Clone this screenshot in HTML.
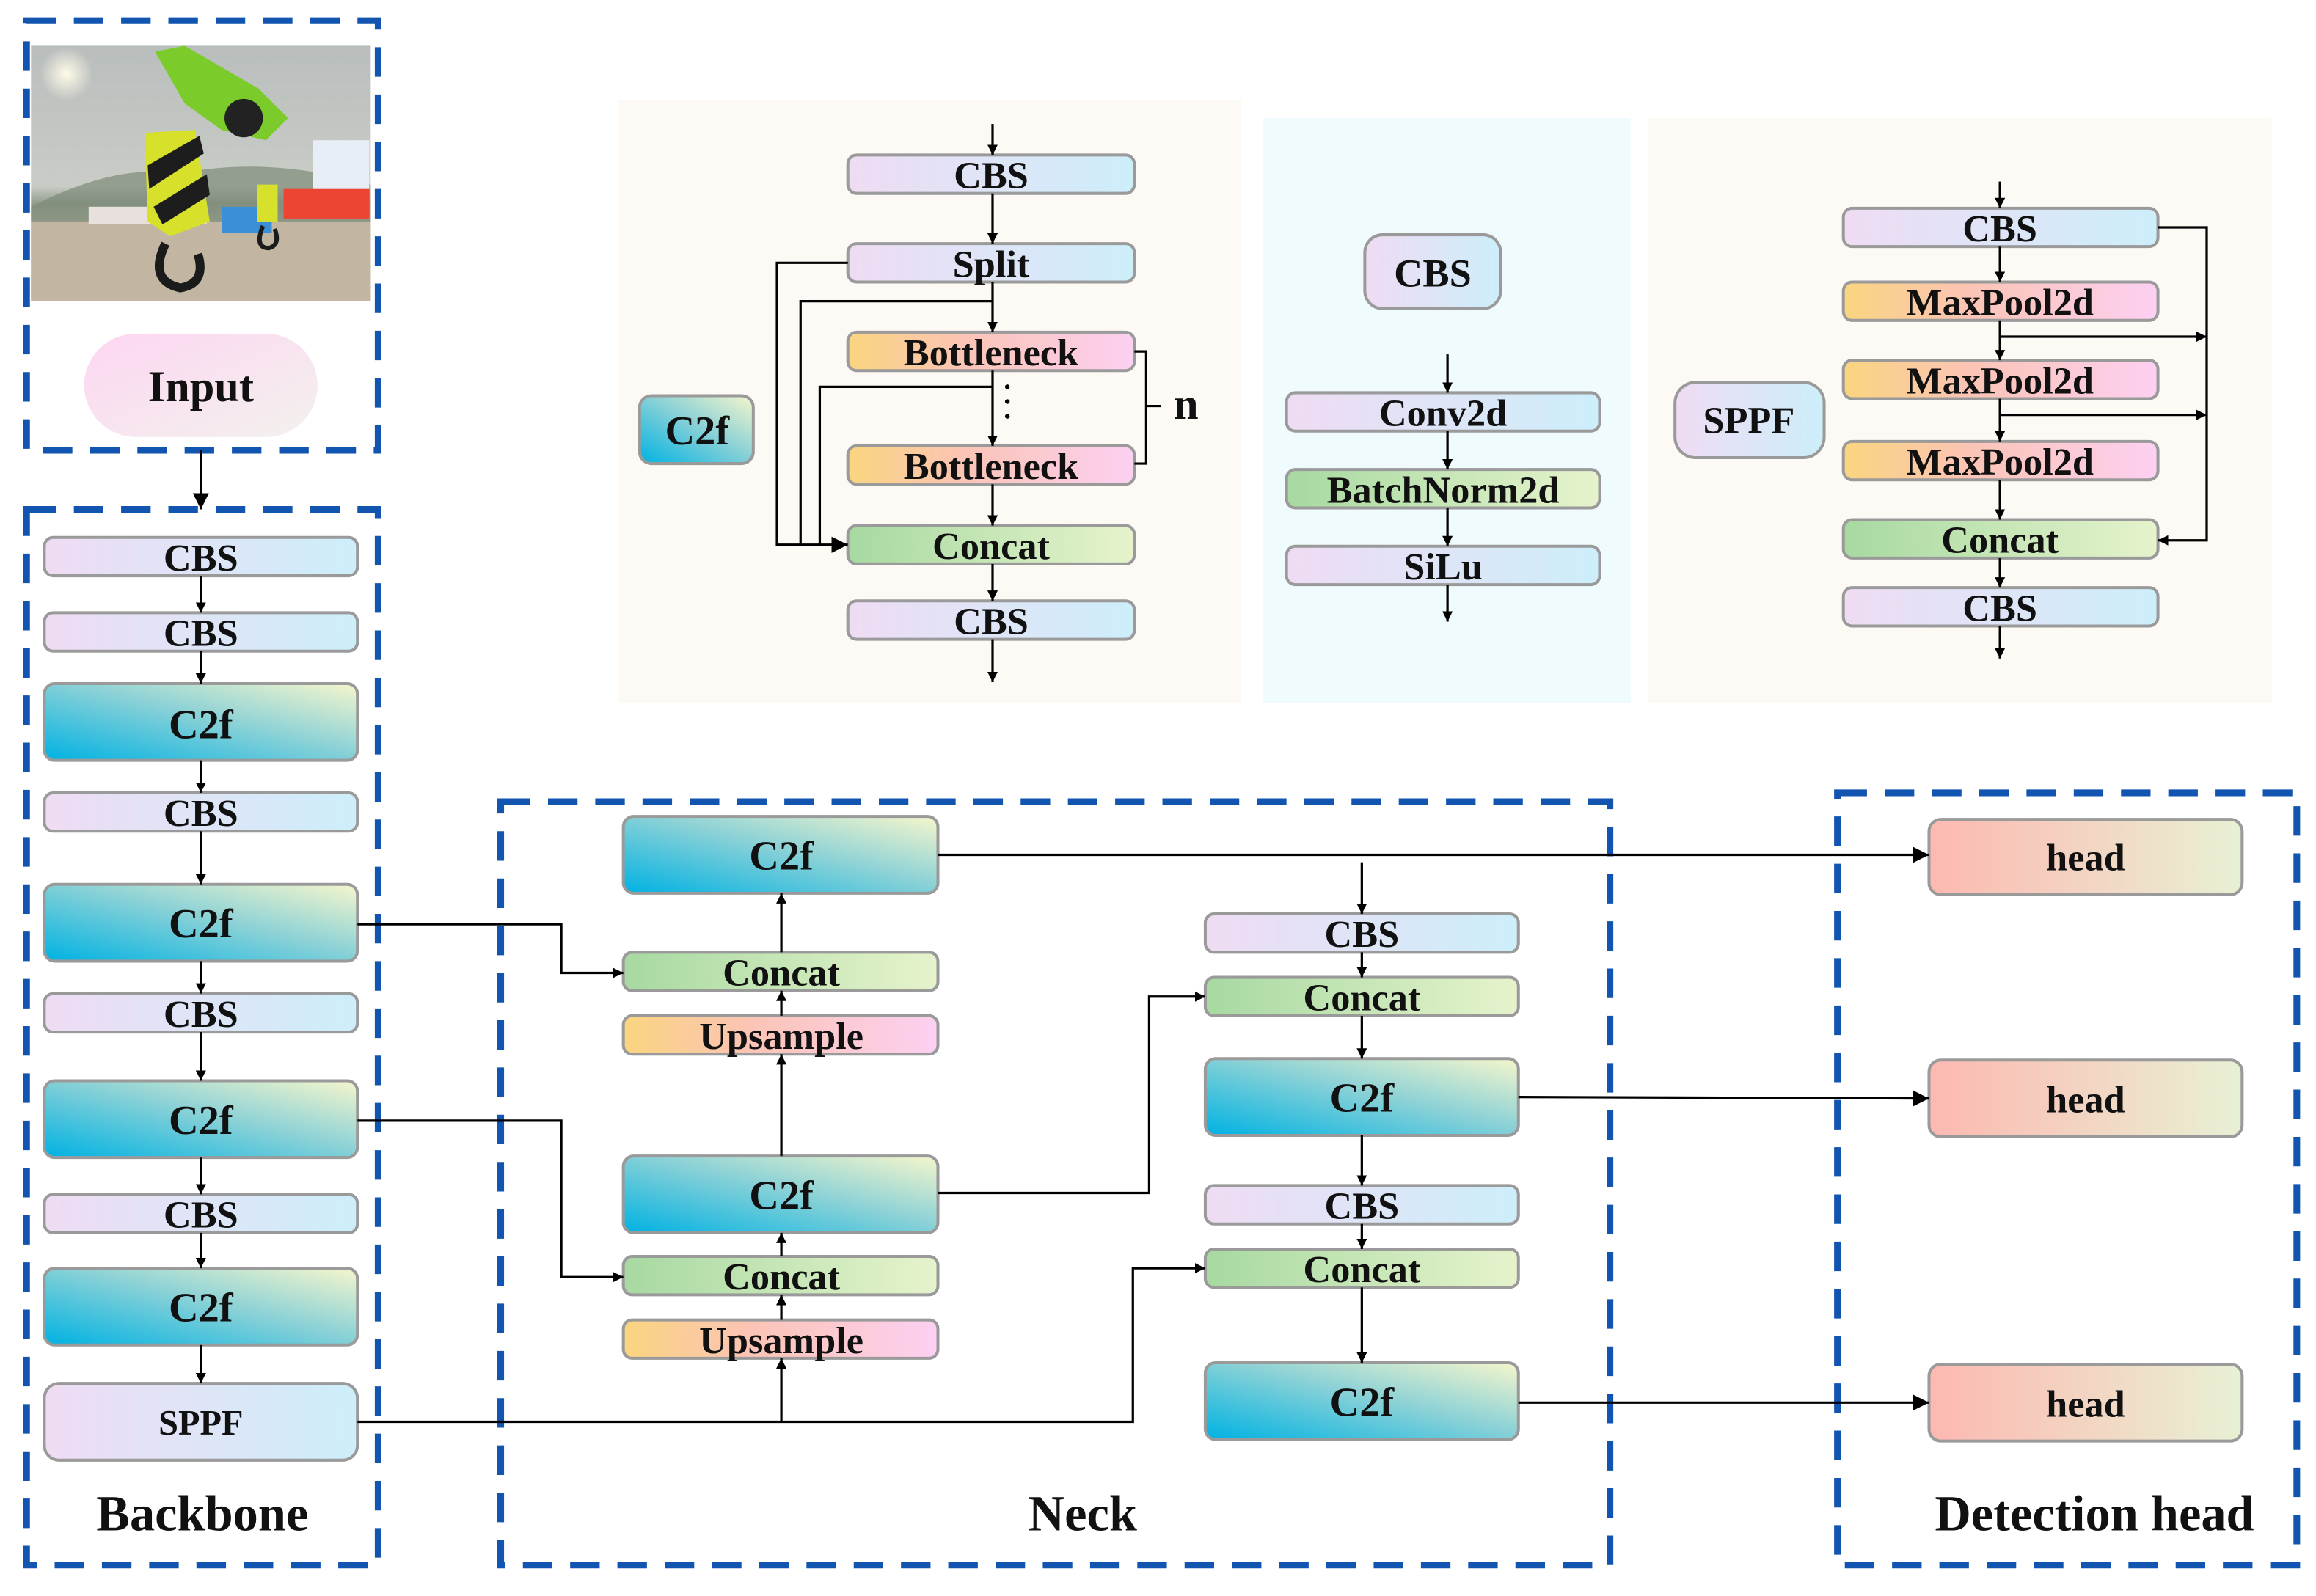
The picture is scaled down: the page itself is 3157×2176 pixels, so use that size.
<!DOCTYPE html>
<html><head><meta charset="utf-8"><style>
html,body{margin:0;padding:0;background:#fff}
svg{display:block}
text{font-family:"Liberation Serif",serif;font-weight:bold;fill:#111;text-anchor:middle;dominant-baseline:central}
</style></head><body>
<svg width="3157" height="2176" viewBox="0 0 1568 1081" preserveAspectRatio="none" xmlns="http://www.w3.org/2000/svg">
<defs>
<linearGradient id="gCBS" x1="0" y1="0" x2="1" y2="0"><stop offset="0" stop-color="#efdcf3"/><stop offset="1" stop-color="#cdeefa"/></linearGradient>
<linearGradient id="gC2f" x1="0" y1="1" x2="1" y2="0"><stop offset="0" stop-color="#00b2e3"/><stop offset="0.55" stop-color="#8dd2d6"/><stop offset="1" stop-color="#f6f6cc"/></linearGradient>
<linearGradient id="gCat" x1="0" y1="0" x2="1" y2="0"><stop offset="0" stop-color="#a7d9a1"/><stop offset="1" stop-color="#e6f3cc"/></linearGradient>
<linearGradient id="gUp" x1="0" y1="0" x2="1" y2="0"><stop offset="0" stop-color="#fad57f"/><stop offset="0.4" stop-color="#fbc4b5"/><stop offset="1" stop-color="#fcd0f2"/></linearGradient>
<linearGradient id="gHead" x1="0" y1="0" x2="1" y2="0"><stop offset="0" stop-color="#fdb8b1"/><stop offset="1" stop-color="#e8f1d4"/></linearGradient>
<linearGradient id="gIn" x1="0" y1="0" x2="1" y2="1"><stop offset="0" stop-color="#fdd6f1"/><stop offset="1" stop-color="#f3f1ee"/></linearGradient>
<linearGradient id="gSky" x1="0" y1="0" x2="0" y2="1"><stop offset="0" stop-color="#b9bebd"/><stop offset="0.55" stop-color="#c9ccc6"/><stop offset="0.62" stop-color="#8f9a8a"/><stop offset="0.72" stop-color="#c8c0b4"/><stop offset="1" stop-color="#b8ab98"/></linearGradient>
<radialGradient id="gSun" cx="0.5" cy="0.5" r="0.5"><stop offset="0" stop-color="#fffbe8"/><stop offset="1" stop-color="#fffbe8" stop-opacity="0"/></radialGradient>
<marker id="ar" viewBox="0 0 10 10" refX="10" refY="5" markerWidth="7" markerHeight="7" orient="auto" markerUnits="userSpaceOnUse"><path d="M0,0 L10,5 L0,10 z" fill="#000"/></marker>
<marker id="arB" viewBox="0 0 10 10" refX="10" refY="5" markerWidth="11" markerHeight="11" orient="auto" markerUnits="userSpaceOnUse"><path d="M0,0 L10,5 L0,10 z" fill="#000"/></marker>
</defs>

<rect x="419" y="68" width="421" height="408" fill="#fdf9f5"/>
<rect x="855" y="80" width="249" height="396" fill="#effbfc"/>
<rect x="1116" y="80" width="422" height="396" fill="#fdf9f5"/>

<g fill="none" stroke="#1155b0" stroke-width="4.5" stroke-dasharray="20 12">
<rect x="18" y="14" width="238" height="291"/>
<rect x="18" y="345" width="238" height="715"/>
<rect x="339" y="543" width="751" height="517"/>
<rect x="1244" y="537" width="311" height="523"/>
</g>

<g>
<rect x="21" y="31" width="230" height="173" fill="url(#gSky)"/>
<circle cx="45" cy="50" r="18" fill="url(#gSun)"/>
<path d="M21 140 Q80 110 120 118 Q180 105 251 125 L251 150 L21 150z" fill="#7d8a78" opacity="0.7"/>
<rect x="21" y="150" width="230" height="54" fill="#c2b6a2"/>
<rect x="60" y="140" width="80" height="12" fill="#e7e0dc"/>
<rect x="150" y="140" width="34" height="18" fill="#3a8fd6"/>
<rect x="192" y="128" width="58" height="20" fill="#ee4433"/>
<rect x="212" y="95" width="38" height="33" fill="#e8eef5"/>
<path d="M105 35 L125 31 L175 60 L195 80 L180 95 L150 88 L125 70 Z" fill="#7bcc2a"/>
<circle cx="165" cy="80" r="13" fill="#222"/>
<path d="M98 90 L132 88 L142 150 L115 160 L100 150 Z" fill="#d7e02a"/>
<path d="M100 112 L135 92 L138 104 L101 128Z M104 140 L140 118 L142 132 L110 152Z" fill="#1d1d1d"/>
<path d="M112 165 Q100 190 122 195 Q140 192 134 172" fill="none" stroke="#1b1b1b" stroke-width="6"/>
<rect x="174" y="125" width="14" height="25" fill="#d7e02a"/>
<path d="M178 153 Q172 168 182 168 Q190 166 186 155" fill="none" stroke="#1b1b1b" stroke-width="3"/>
</g>

<rect x="57" y="226" width="158" height="70" rx="35" fill="url(#gIn)"/>
<text x="136" y="262" font-size="30">Input</text>
<line x1="136" y1="305" x2="136" y2="345" stroke="#000" stroke-width="1.6" marker-end="url(#arB)"/>

<g stroke="#9a9a9a" stroke-width="2">
<rect x="30" y="364" width="212" height="26" rx="6" fill="url(#gCBS)"/>
<rect x="30" y="415" width="212" height="26" rx="6" fill="url(#gCBS)"/>
<rect x="30" y="463" width="212" height="52" rx="7" fill="url(#gC2f)"/>
<rect x="30" y="537" width="212" height="26" rx="6" fill="url(#gCBS)"/>
<rect x="30" y="599" width="212" height="52" rx="7" fill="url(#gC2f)"/>
<rect x="30" y="673" width="212" height="26" rx="6" fill="url(#gCBS)"/>
<rect x="30" y="732" width="212" height="52" rx="7" fill="url(#gC2f)"/>
<rect x="30" y="809" width="212" height="26" rx="6" fill="url(#gCBS)"/>
<rect x="30" y="859" width="212" height="52" rx="7" fill="url(#gC2f)"/>
<rect x="30" y="937" width="212" height="52" rx="10" fill="url(#gCBS)"/>
<rect x="422" y="553" width="213" height="52" rx="7" fill="url(#gC2f)"/>
<rect x="422" y="645" width="213" height="26" rx="6" fill="url(#gCat)"/>
<rect x="422" y="688" width="213" height="26" rx="6" fill="url(#gUp)"/>
<rect x="422" y="783" width="213" height="52" rx="7" fill="url(#gC2f)"/>
<rect x="422" y="851" width="213" height="26" rx="6" fill="url(#gCat)"/>
<rect x="422" y="894" width="213" height="26" rx="6" fill="url(#gUp)"/>
<rect x="816" y="619" width="212" height="26" rx="6" fill="url(#gCBS)"/>
<rect x="816" y="662" width="212" height="26" rx="6" fill="url(#gCat)"/>
<rect x="816" y="717" width="212" height="52" rx="7" fill="url(#gC2f)"/>
<rect x="816" y="803" width="212" height="26" rx="6" fill="url(#gCBS)"/>
<rect x="816" y="846" width="212" height="26" rx="6" fill="url(#gCat)"/>
<rect x="816" y="923" width="212" height="52" rx="7" fill="url(#gC2f)"/>
<rect x="1306" y="555" width="212" height="51" rx="8" fill="url(#gHead)"/>
<rect x="1306" y="718" width="212" height="52" rx="8" fill="url(#gHead)"/>
<rect x="1306" y="924" width="212" height="52" rx="8" fill="url(#gHead)"/>
<rect x="433" y="268" width="77" height="46" rx="8" fill="url(#gC2f)"/>
<rect x="574" y="105" width="194" height="26" rx="6" fill="url(#gCBS)"/>
<rect x="574" y="165" width="194" height="26" rx="6" fill="url(#gCBS)"/>
<rect x="574" y="225" width="194" height="26" rx="6" fill="url(#gUp)"/>
<rect x="574" y="302" width="194" height="26" rx="6" fill="url(#gUp)"/>
<rect x="574" y="356" width="194" height="26" rx="6" fill="url(#gCat)"/>
<rect x="574" y="407" width="194" height="26" rx="6" fill="url(#gCBS)"/>
<rect x="924" y="159" width="92" height="50" rx="12" fill="url(#gCBS)"/>
<rect x="871" y="266" width="212" height="26" rx="6" fill="url(#gCBS)"/>
<rect x="871" y="318" width="212" height="26" rx="6" fill="url(#gCat)"/>
<rect x="871" y="370" width="212" height="26" rx="6" fill="url(#gCBS)"/>
<rect x="1134" y="259" width="101" height="51" rx="14" fill="url(#gCBS)"/>
<rect x="1248" y="141" width="213" height="26" rx="6" fill="url(#gCBS)"/>
<rect x="1248" y="191" width="213" height="26" rx="6" fill="url(#gUp)"/>
<rect x="1248" y="244" width="213" height="26" rx="6" fill="url(#gUp)"/>
<rect x="1248" y="299" width="213" height="26" rx="6" fill="url(#gUp)"/>
<rect x="1248" y="352" width="213" height="26" rx="6" fill="url(#gCat)"/>
<rect x="1248" y="398" width="213" height="26" rx="6" fill="url(#gCBS)"/>
</g>

<g stroke="#000" stroke-width="1.6" fill="none">
<line x1="136" y1="390" x2="136" y2="415" marker-end="url(#ar)"/>
<line x1="136" y1="441" x2="136" y2="463" marker-end="url(#ar)"/>
<line x1="136" y1="515" x2="136" y2="537" marker-end="url(#ar)"/>
<line x1="136" y1="563" x2="136" y2="599" marker-end="url(#ar)"/>
<line x1="136" y1="651" x2="136" y2="673" marker-end="url(#ar)"/>
<line x1="136" y1="699" x2="136" y2="732" marker-end="url(#ar)"/>
<line x1="136" y1="784" x2="136" y2="809" marker-end="url(#ar)"/>
<line x1="136" y1="835" x2="136" y2="859" marker-end="url(#ar)"/>
<line x1="136" y1="911" x2="136" y2="937" marker-end="url(#ar)"/>
<polyline points="242,626 380,626 380,659 422,659" marker-end="url(#ar)"/>
<polyline points="242,759 380,759 380,865 422,865" marker-end="url(#ar)"/>
<polyline points="242,963 767,963 767,859 816,859" marker-end="url(#ar)"/>
<line x1="529" y1="963" x2="529" y2="920" marker-end="url(#ar)"/>
<line x1="529" y1="894" x2="529" y2="877" marker-end="url(#ar)"/>
<line x1="529" y1="851" x2="529" y2="835" marker-end="url(#ar)"/>
<line x1="529" y1="783" x2="529" y2="714" marker-end="url(#ar)"/>
<line x1="529" y1="688" x2="529" y2="671" marker-end="url(#ar)"/>
<line x1="529" y1="645" x2="529" y2="605" marker-end="url(#ar)"/>
<line x1="635" y1="579" x2="1306" y2="579" marker-end="url(#arB)"/>
<line x1="922" y1="584" x2="922" y2="619" marker-end="url(#ar)"/>
<polyline points="635,808 778,808 778,675 816,675" marker-end="url(#ar)"/>
<line x1="922" y1="645" x2="922" y2="662" marker-end="url(#ar)"/>
<line x1="922" y1="688" x2="922" y2="717" marker-end="url(#ar)"/>
<line x1="922" y1="769" x2="922" y2="803" marker-end="url(#ar)"/>
<line x1="922" y1="829" x2="922" y2="846" marker-end="url(#ar)"/>
<line x1="922" y1="872" x2="922" y2="923" marker-end="url(#ar)"/>
<line x1="1028" y1="743" x2="1306" y2="744" marker-end="url(#arB)"/>
<line x1="1028" y1="950" x2="1306" y2="950" marker-end="url(#arB)"/>
<line x1="672" y1="84" x2="672" y2="105" marker-end="url(#ar)"/>
<line x1="672" y1="131" x2="672" y2="165" marker-end="url(#ar)"/>
<line x1="672" y1="191" x2="672" y2="225" marker-end="url(#ar)"/>
<line x1="672" y1="251" x2="672" y2="302" marker-end="url(#ar)"/>
<line x1="672" y1="328" x2="672" y2="356" marker-end="url(#ar)"/>
<line x1="672" y1="382" x2="672" y2="407" marker-end="url(#ar)"/>
<line x1="672" y1="433" x2="672" y2="462" marker-end="url(#ar)"/>
<polyline points="574,178 526,178 526,369 574,369" marker-end="url(#arB)"/>
<polyline points="672,204 542,204 542,369"/>
<polyline points="672,262 555,262 555,369"/>
<polyline points="768,238 776,238 776,314 768,314"/>
<line x1="776" y1="275" x2="786" y2="275"/>
<line x1="980" y1="240" x2="980" y2="266" marker-end="url(#ar)"/>
<line x1="980" y1="292" x2="980" y2="318" marker-end="url(#ar)"/>
<line x1="980" y1="344" x2="980" y2="370" marker-end="url(#ar)"/>
<line x1="980" y1="396" x2="980" y2="421" marker-end="url(#ar)"/>
<line x1="1354" y1="123" x2="1354" y2="141" marker-end="url(#ar)"/>
<line x1="1354" y1="167" x2="1354" y2="191" marker-end="url(#ar)"/>
<line x1="1354" y1="217" x2="1354" y2="244" marker-end="url(#ar)"/>
<line x1="1354" y1="270" x2="1354" y2="299" marker-end="url(#ar)"/>
<line x1="1354" y1="325" x2="1354" y2="352" marker-end="url(#ar)"/>
<line x1="1354" y1="378" x2="1354" y2="398" marker-end="url(#ar)"/>
<line x1="1354" y1="424" x2="1354" y2="446" marker-end="url(#ar)"/>
<polyline points="1461,154 1494,154 1494,366 1461,366" marker-end="url(#ar)"/>
<line x1="1354" y1="228" x2="1494" y2="228" marker-end="url(#ar)"/>
<line x1="1354" y1="281" x2="1494" y2="281" marker-end="url(#ar)"/>
</g>
<g fill="#000"><circle cx="682" cy="262" r="1.6"/><circle cx="682" cy="272" r="1.6"/><circle cx="682" cy="282" r="1.6"/></g>

<g font-size="26">
<text x="136" y="378">CBS</text>
<text x="136" y="429">CBS</text>
<text x="136" y="491" font-size="28">C2f</text>
<text x="136" y="551">CBS</text>
<text x="136" y="626" font-size="28">C2f</text>
<text x="136" y="687">CBS</text>
<text x="136" y="759" font-size="28">C2f</text>
<text x="136" y="823">CBS</text>
<text x="136" y="886" font-size="28">C2f</text>
<text x="136" y="964" font-size="24">SPPF</text>
<text x="529" y="580" font-size="28">C2f</text>
<text x="529" y="659">Concat</text>
<text x="529" y="702">Upsample</text>
<text x="529" y="810" font-size="28">C2f</text>
<text x="529" y="865">Concat</text>
<text x="529" y="908">Upsample</text>
<text x="922" y="633">CBS</text>
<text x="922" y="676">Concat</text>
<text x="922" y="744" font-size="28">C2f</text>
<text x="922" y="817">CBS</text>
<text x="922" y="860">Concat</text>
<text x="922" y="950" font-size="28">C2f</text>
<text x="1412" y="581">head</text>
<text x="1412" y="745">head</text>
<text x="1412" y="951">head</text>
<text x="472" y="292" font-size="28">C2f</text>
<text x="671" y="119">CBS</text>
<text x="671" y="179">Split</text>
<text x="671" y="239">Bottleneck</text>
<text x="671" y="316">Bottleneck</text>
<text x="671" y="370">Concat</text>
<text x="671" y="421">CBS</text>
<text x="803" y="274" font-size="30">n</text>
<text x="970" y="185" font-size="27">CBS</text>
<text x="977" y="280">Conv2d</text>
<text x="977" y="332">BatchNorm2d</text>
<text x="977" y="384">SiLu</text>
<text x="1184" y="285">SPPF</text>
<text x="1354" y="155">CBS</text>
<text x="1354" y="205">MaxPool2d</text>
<text x="1354" y="258">MaxPool2d</text>
<text x="1354" y="313">MaxPool2d</text>
<text x="1354" y="366">Concat</text>
<text x="1354" y="412">CBS</text>
</g>
<g font-size="34">
<text x="137" y="1025">Backbone</text>
<text x="733" y="1025">Neck</text>
<text x="1418" y="1025">Detection head</text>
</g>
</svg>
</body></html>
